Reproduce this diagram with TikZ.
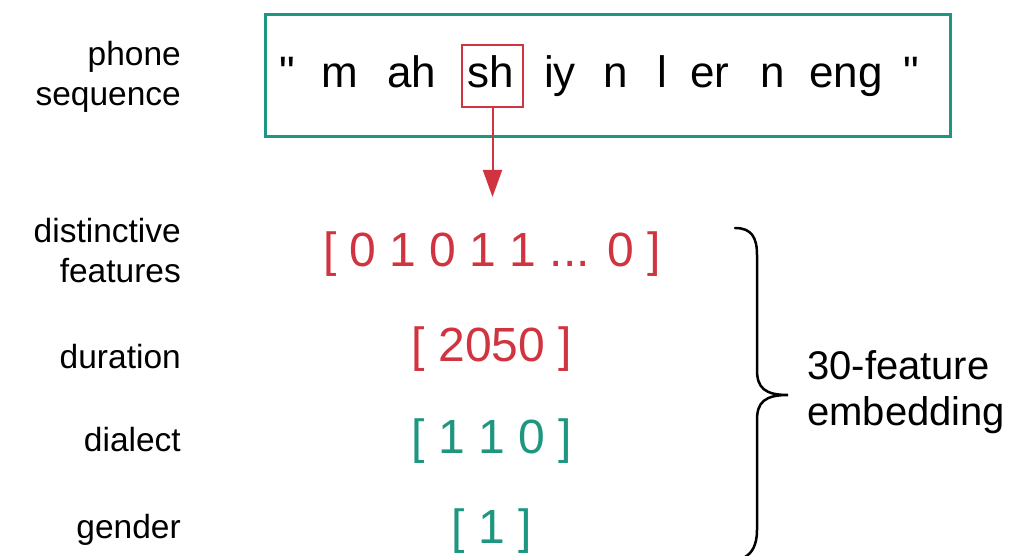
\documentclass[tikz,border=0pt]{standalone}
\usepackage{fontspec}
\setmainfont{Liberation Sans}
\newfontfamily\qfont{Liberation Sans}[Ligatures=ResetAll]
\usetikzlibrary{arrows.meta}
\definecolor{tealc}{RGB}{30,150,128}
\definecolor{redc}{RGB}{208,52,64}
\begin{document}
\begin{tikzpicture}[x=1pt,y=-1pt,
  lab/.style={align=right, anchor=east, font=\fontsize{33.5}{40}\selectfont, inner sep=0pt},
  ph/.style={anchor=base, font=\fontsize{44}{50}\selectfont, inner sep=0pt},
  vec/.style={anchor=center, font=\fontsize{48}{54}\selectfont, inner sep=0pt},
  emb/.style={align=left, anchor=west, font=\fontsize{40}{46}\selectfont, inner sep=0pt}]
\useasboundingbox (0,0) rectangle (1010,556);
% labels
\node[lab] (lphone) at (181,77) {phone\\sequence};
\node[lab] (ldist) at (181,251) {distinctive\\features};
\node[lab] (ldur) at (181,357) {duration};
\node[lab] (ldia) at (181,440) {dialect};
\node[lab] (lgen) at (181,530) {gender};
% sequence box
\node[draw=tealc, line width=3pt, minimum width=685pt, minimum height=122pt, inner sep=0pt] (seqbox) at (607.5,76) {};
\node[ph] (t1) at (287,88) {\qfont "};
\node[ph] (t2) at (340,88) {m};
\node[ph] (t3) at (412,88) {ah};
\node[ph] (t4) at (491,88) {sh};
\node[ph] (t5) at (560,88) {iy};
\node[ph] (t6) at (616,88) {n};
\node[ph] (t7) at (662,88) {l};
\node[ph] (t8) at (710,88) {er};
\node[ph] (t9) at (773,88) {n};
\node[ph] (t10) at (846,88) {eng};
\node[ph] (t11) at (911,88) {\qfont "};
\node[draw=redc, line width=2pt, minimum width=61pt, minimum height=62pt, inner sep=0pt] (shbox) at (492.5,76) {};
\coordinate (arrtip) at (492.5,197);
\draw[redc, line width=2pt, -{Triangle[width=19pt,length=27pt]}] (shbox.south) -- (arrtip);
% vectors
\node[vec, text=redc] (v1) at (492,254) {[ 0 1 0 1 1 ... 0 ]};
\node[vec, text=redc] (v2) at (492,349) {[ 2050 ]};
\node[vec, text=tealc] (v3) at (492,441) {[ 1 1 0 ]};
\node[vec, text=tealc] (v4) at (492,531) {[ 1 ]};
% brace
\draw[line width=2.5pt, line cap=round] (735,228) .. controls (752,228) and (757,238) .. (757,255)
  -- (757,370) .. controls (757,388) and (765,395) .. (788,395)
  .. controls (765,395) and (757,402) .. (757,420)
  -- (757,530) .. controls (757,545) and (752,553) .. (745,557);
\node[emb] (embl) at (807,392) {30-feature\\embedding};
\end{tikzpicture}
\end{document}
